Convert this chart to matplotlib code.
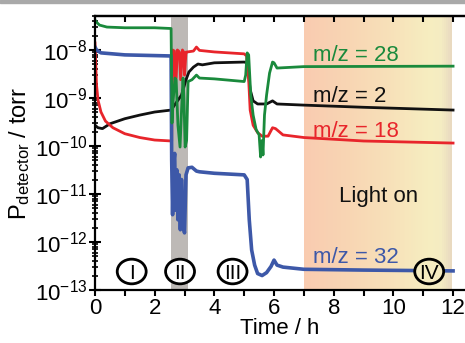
import numpy as np
import matplotlib
matplotlib.use("Agg")
import matplotlib.pyplot as plt
from matplotlib.patches import Ellipse, Rectangle
from matplotlib.colors import to_rgb
import matplotlib.ticker as mticker

plt.rcParams['font.family'] = ['Liberation Sans', 'DejaVu Sans']
plt.rcParams['mathtext.fontset'] = 'custom'
plt.rcParams['mathtext.rm'] = 'Liberation Sans'
plt.rcParams['mathtext.it'] = 'Liberation Sans'
plt.rcParams['mathtext.default'] = 'regular'
plt.rcParams['axes.unicode_minus'] = False

# ---------------- data ----------------
t_mz2 = [0, 0.1, 0.25, 0.5, 1.0, 1.5, 2.0, 2.55, 2.9, 3.05, 3.15, 3.3, 3.45, 3.6, 4.0, 5.0,
         5.1, 5.2, 5.3, 5.45, 5.75, 5.95, 6.1, 7.0, 9.0, 12.0]
p_mz2 = [2.7e-10, 2.4e-10, 2.3e-10, 2.9e-10, 3.7e-10, 4.4e-10, 5.1e-10, 5.6e-10, 1.15e-9, 2.4e-9,
         3.5e-9, 4.4e-9, 5.1e-9, 4.9e-9, 5.4e-9, 5.6e-9,
         5.4e-9, 1.5e-9, 8.7e-10, 7.5e-10, 7.5e-10, 8.7e-10, 7.5e-10, 7.1e-10, 6.4e-10, 5.6e-10]

t_mz18 = [0, 0.02, 0.05, 0.1, 0.2, 0.35, 0.6, 1.0, 1.5, 2.0, 2.57, 2.6, 2.66, 2.69, 2.72, 2.76,
          2.8, 2.83, 2.87, 2.93, 2.97, 3.0, 3.05, 3.1, 3.3, 3.4, 3.5, 4.0, 5.0, 5.08, 5.15, 5.2,
          5.3, 5.45, 5.6, 5.8, 5.95, 6.05, 6.3, 7.0, 9.0, 12.0]
p_mz18 = [1.4e-8, 6.2e-9, 1.9e-9, 9.1e-10, 5.1e-10, 3.3e-10, 2.4e-10, 1.8e-10, 1.5e-10, 1.33e-10,
          1.27e-10, 1.0e-8, 9.5e-9, 2.4e-9, 2.6e-9, 1.0e-8, 9.5e-9, 9.0e-9, 2.4e-9, 1.0e-8, 9.0e-9,
          3.0e-9, 9.0e-9, 9.1e-9, 9.5e-9, 1.15e-8, 9.8e-9, 9.1e-9, 8.3e-9, 7.5e-9, 2.4e-9, 5.6e-10,
          2.7e-10, 1.9e-10, 1.6e-10, 1.6e-10, 2.4e-10, 2.3e-10, 1.7e-10, 1.5e-10, 1.27e-10, 1.15e-10]

t_mz28 = [0, 0.05, 0.15, 0.4, 1.0, 2.0, 2.55, 2.58, 2.62, 2.68, 2.72, 2.78, 2.85, 2.9, 2.95,
          2.98, 3.02, 3.07, 3.12, 3.25, 3.4, 3.5, 4.0, 5.0, 5.05, 5.1, 5.15, 5.22, 5.3, 5.4, 5.5,
          5.55, 5.6, 5.63, 5.68, 5.75, 5.85, 5.95, 6.0, 6.1, 7.0, 12.0]
p_mz28 = [4.2e-8, 3.8e-8, 3.3e-8, 3.0e-8, 2.9e-8, 2.9e-8, 2.8e-8, 3.0e-10, 9e-10, 2.6e-9, 2.4e-9,
          2.7e-10, 9.5e-11, 5.6e-10, 2.6e-9, 1.0e-9, 9.5e-11, 1.3e-10, 2.2e-9, 2.4e-9, 3.0e-9,
          2.6e-9, 2.5e-9, 2.2e-9, 3.0e-9, 8.7e-9, 7.9e-9, 1.15e-9, 4.4e-10, 2.2e-10, 1.7e-10,
          5.9e-11, 1.3e-10, 6.5e-11, 4.4e-10, 1.15e-9, 3.3e-9, 5.6e-9, 5.4e-9, 4.2e-9, 4.5e-9, 4.6e-9]

t_mz32 = [0, 0.05, 0.2, 1.0, 2.55, 2.57, 2.6, 2.63, 2.67, 2.7, 2.74, 2.78, 2.82, 2.86, 2.9, 2.95,
          3.0, 3.05, 3.12, 3.25, 3.4, 3.5, 4.0, 5.0, 5.1, 5.17, 5.25, 5.35, 5.45, 5.6, 5.75, 5.9,
          6.0, 6.1, 6.3, 7.0, 9.0, 12.0]
p_mz32 = [1.15e-8, 1.0e-8, 8.7e-9, 7.9e-9, 7.5e-9, 5.1e-11, 3.7e-12, 4.0e-11, 7.0e-11, 4.6e-12,
          3.2e-11, 2.9e-12, 2.5e-11, 1.8e-12, 2.0e-11, 2.3e-12, 1.55e-12, 2.5e-11, 3.5e-11, 3.6e-11,
          3.0e-11, 2.9e-11, 2.7e-11, 2.5e-11, 2.0e-11, 2.9e-12, 6.8e-13, 3.3e-13, 2.2e-13, 2.0e-13,
          2.3e-13, 3.1e-13, 4.2e-13, 3.3e-13, 3.0e-13, 2.7e-13, 2.6e-13, 2.5e-13]

labels = ["m/z = 28", "m/z = 2", "m/z = 18", "m/z = 32"]
numerals = ["I", "II", "III", "IV"]
numeral_t = [1.23, 2.85, 4.61, 11.2]
dark_window = (2.55, 3.13)
light_window = (7.0, 11.95)

C_BLACK = "#111111"
C_RED = "#E8252B"
C_GREEN = "#1A8A3C"
C_BLUE = "#3D58A8"

# ---------------- figure ----------------
W, H = 465, 343
fig = plt.figure(figsize=(W / 100, H / 100), dpi=100)
L, R, B, T = 95, 465, 290, 16
ax = fig.add_axes([L / W, 1 - B / H, (R - L) / W, (B - T) / H])
ax.set_yscale('log')
ax.set_xlim(0, 12.4)
ax.set_ylim(1e-13, 5.1e-8)

# light-on gradient
anchors = [(0.0, "#F9CBB0"), (0.3, "#F8D5B3"), (0.6, "#F7E1B9"), (0.85, "#F6EDC0"),
           (0.93, "#F4ECC2"), (1.0, "#E8D8C0")]
n = 80
x0, x1 = light_window
for i in range(n):
    f = (i + 0.5) / n
    for j in range(len(anchors) - 1):
        if anchors[j][0] <= f <= anchors[j + 1][0]:
            a0, c0 = anchors[j]
            a1, c1 = anchors[j + 1]
            w = (f - a0) / (a1 - a0)
            col = tuple((1 - w) * np.array(to_rgb(c0)) + w * np.array(to_rgb(c1)))
            break
    ax.axvspan(x0 + (x1 - x0) * i / n, x0 + (x1 - x0) * (i + 1) / n, color=col, lw=0, zorder=0)

ax.axvspan(*dark_window, color="#BDB9B6", lw=0, zorder=0.5)

lw = 2.0
ax.plot(t_mz2, p_mz2, color=C_BLACK, lw=lw, zorder=2)
ax.plot(t_mz18, p_mz18, color=C_RED, lw=lw, zorder=2.1)
ax.plot(t_mz32, p_mz32, color=C_BLUE, lw=2.6, zorder=2.2)
ax.plot(t_mz28, p_mz28, color=C_GREEN, lw=lw, zorder=2.3)

fs = 16
ax.text(7.3, 10 ** -8.23, labels[0], color=C_GREEN, fontsize=fs, va='baseline', ha='left', zorder=3)
ax.text(7.3, 10 ** -9.083, labels[1], color=C_BLACK, fontsize=fs, va='baseline', ha='left', zorder=3)
ax.text(7.3, 10 ** -9.81, labels[2], color=C_RED, fontsize=fs, va='baseline', ha='left', zorder=3)
ax.text(7.3, 10 ** -12.43, labels[3], color=C_BLUE, fontsize=fs, va='baseline', ha='left', zorder=3)
ax.text(9.49, 10 ** -11.16, "Light on", color=C_BLACK, fontsize=fs, va='baseline', ha='center', zorder=3)

trans = ax.get_xaxis_transform()
for k, (lab, tx) in enumerate(zip(numerals, numeral_t)):
    fc = "#F5EBC0" if tx > light_window[0] else "white"
    e = Ellipse((tx, 0.0675), width=0.97, height=0.09, transform=trans,
                facecolor=fc, edgecolor='black', lw=2.0, zorder=4)
    ax.add_patch(e)
    ax.text(tx, 0.0675, lab, transform=trans, ha='center', va='center_baseline',
            fontsize=15, zorder=5)

# spines & ticks
for s in ['left', 'bottom', 'top']:
    ax.spines[s].set_linewidth(1.6)
ax.spines['right'].set_visible(False)
ax.xaxis.set_major_locator(mticker.FixedLocator([0, 2, 4, 6, 8, 10, 12]))
ax.xaxis.set_minor_locator(mticker.FixedLocator([1, 3, 5, 7, 9, 11]))
ax.xaxis.set_major_formatter(mticker.FormatStrFormatter('%d'))
ax.tick_params(axis='x', which='both', direction='out', length=4, width=1.5, top=False,
               labelsize=16, pad=2)
ax.yaxis.set_major_locator(mticker.LogLocator(base=10, numticks=20))
ax.yaxis.set_minor_locator(mticker.LogLocator(base=10, subs=np.arange(2, 10), numticks=20))
ax.yaxis.set_minor_formatter(mticker.NullFormatter())
ax.tick_params(axis='y', which='major', direction='inout', length=9, width=1.5, right=False,
               labelsize=16, pad=1)
ax.tick_params(axis='y', which='minor', direction='inout', length=5, width=1.2, right=False)

sec = ax.secondary_xaxis('top')
sec.set_xticks(list(range(0, 13)))
sec.tick_params(direction='in', length=4, width=1.5, labeltop=False)
sec.spines['top'].set_linewidth(1.6)

ax.set_xlabel("Time / h", fontsize=16, labelpad=-1)
ax.set_ylabel(r"P$_{detector}$ / torr", fontsize=17, labelpad=2)

fig.patches.append(Rectangle((0, 1 - 2.5 / H), 1, 2.5 / H, transform=fig.transFigure,
                             color="#A9A9A9", zorder=10))

fig.savefig("out.png", dpi=100)
